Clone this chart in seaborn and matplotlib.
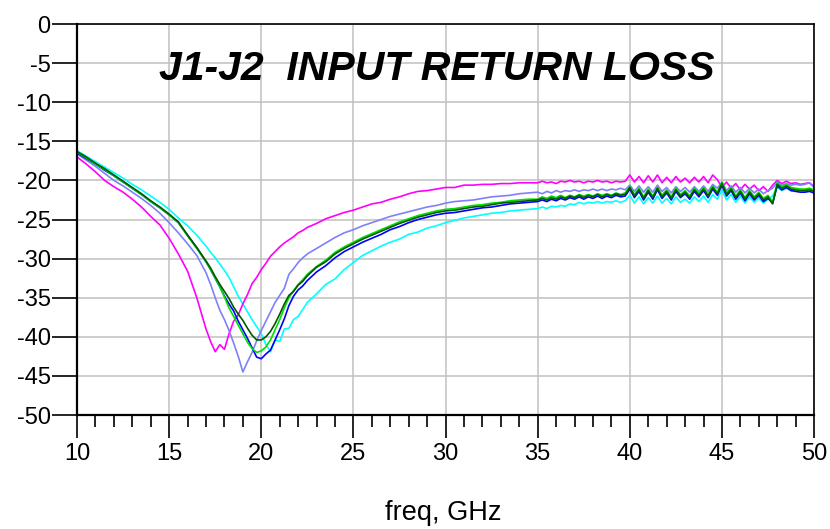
# -*- coding: utf-8 -*-
# J1-J2 input return loss, 10-50 GHz, six traces
import numpy as np
import pandas as pd
import matplotlib
matplotlib.use("Agg")
import matplotlib.pyplot as plt
import matplotlib.ticker as ticker
import seaborn as sns

# frequency grid [GHz]: finer steps around the dips and in the noisy top band
freq = np.concatenate([np.arange(10, 17, 0.5), np.arange(17, 22.5, 0.25),
                       np.arange(22.5, 35, 0.5), np.arange(35, 50.01, 0.25)])

# S11 [dB]
s11_cyan = [
    -16.2, -16.9, -17.6, -18.3, -19.0, -19.7, -20.5, -21.2, -22.0, -22.8, -23.7, -24.8, -25.8, -27.0,
    -28.4, -29.2, -29.9, -30.7, -31.5, -32.4, -33.6, -34.8, -35.8, -36.8, -37.8, -38.7, -39.6, -41.0,
    -41.9, -40.4, -40.6, -39.0, -38.9, -37.8, -37.4, -36.5,
    -35.6, -34.5, -33.3, -32.6, -31.4, -30.5, -29.6, -29.0, -28.4, -27.9, -27.5, -26.9, -26.6, -26.1,
    -25.8, -25.4, -25.1, -24.8, -24.6, -24.4, -24.2, -24.1, -23.9, -23.8, -23.7,
    -23.6, -23.4, -23.6, -23.3, -23.4, -23.2, -23.3, -23.0, -23.1, -22.8, -23.0, -22.8, -22.9, -22.7,
    -22.9, -22.7, -22.8, -22.6, -22.8, -22.6,
    -21.9, -22.9, -22.1, -23.0, -22.2, -22.9, -22.0, -22.9, -22.3, -23.0, -22.1, -22.8, -22.4, -22.9,
    -22.1, -22.7, -22.0, -22.8, -21.8, -22.4,
    -21.2, -22.5, -21.8, -22.8, -22.0, -22.9, -22.1, -22.8, -22.2, -22.9, -22.4, -22.0, -20.8, -21.3,
    -21.0, -21.3, -21.2, -21.2, -21.3, -21.0, -21.4]

s11_magenta = [
    -17.0, -17.9, -18.9, -20.0, -20.8, -21.5, -22.4, -23.4, -24.6, -25.7, -27.4, -29.4, -31.6, -35.0,
    -39.0, -40.6, -41.9, -41.0, -41.6, -39.6, -38.0, -37.2, -35.8, -34.6, -33.2, -32.4, -31.4, -30.6,
    -29.7, -29.1, -28.5, -28.0, -27.6, -27.2, -26.7, -26.4,
    -26.0, -25.5, -24.9, -24.5, -24.1, -23.8, -23.4, -23.0, -22.8, -22.4, -22.1, -21.7, -21.4, -21.3,
    -21.1, -20.9, -20.9, -20.6, -20.6, -20.5, -20.5, -20.4, -20.4, -20.3, -20.3,
    -20.3, -20.1, -20.3, -20.2, -20.4, -20.1, -20.2, -20.0, -20.2, -20.1, -20.3, -20.1, -20.2, -20.0,
    -20.2, -20.1, -20.3, -20.1, -20.2, -20.1,
    -19.3, -20.2, -19.5, -20.3, -19.4, -20.2, -19.3, -20.3, -19.6, -20.3, -19.5, -20.2, -19.7, -20.3,
    -19.6, -20.2, -19.5, -20.3, -19.3, -19.9,
    -20.9, -20.2, -21.0, -20.4, -21.2, -20.5, -21.1, -20.6, -21.3, -20.8, -21.4, -20.6, -20.0, -20.4,
    -20.1, -20.4, -20.3, -20.5, -20.4, -20.3, -20.8]

s11_slate = [
    -16.6, -17.4, -18.2, -19.1, -20.0, -20.7, -21.5, -22.3, -23.2, -24.2, -25.4, -26.7, -28.1, -29.6,
    -31.8, -33.3, -35.0, -36.6, -37.8, -39.2, -40.8, -42.5, -44.5, -43.2, -42.0, -40.5, -39.2, -38.0,
    -36.8, -35.6, -34.7, -33.8, -32.0, -31.3, -30.5, -29.9,
    -29.4, -28.7, -28.0, -27.3, -26.7, -26.3, -25.8, -25.4, -25.0, -24.6, -24.3, -24.0, -23.7, -23.4,
    -23.2, -22.9, -22.7, -22.6, -22.5, -22.3, -22.1, -22.0, -21.9, -21.7, -21.6,
    -21.5, -21.7, -21.4, -21.6, -21.3, -21.5, -21.3, -21.4, -21.2, -21.4, -21.2, -21.3, -21.1, -21.3,
    -21.1, -21.3, -21.1, -21.2, -21.0, -21.2,
    -20.6, -21.4, -20.7, -21.5, -20.8, -21.5, -20.6, -21.4, -20.9, -21.6, -20.8, -21.4, -20.9, -21.5,
    -20.8, -21.4, -20.7, -21.4, -20.5, -21.0,
    -20.2, -21.3, -20.7, -21.5, -20.9, -21.6, -21.0, -21.6, -21.1, -21.7, -21.3, -21.0, -20.2, -20.6,
    -20.4, -20.6, -20.5, -20.6, -20.5, -20.3, -20.9]

s11_blue = [
    -16.5, -17.2, -17.9, -18.7, -19.4, -20.2, -21.0, -21.8, -22.7, -23.5, -24.4, -25.4, -27.0, -28.6,
    -30.4, -31.4, -32.5, -33.6, -34.8, -35.8, -36.7, -38.0, -39.1, -40.2, -41.4, -42.6, -42.8, -42.2,
    -41.7, -40.4, -39.1, -37.7, -36.0, -34.8, -34.0, -33.5,
    -32.8, -31.7, -30.9, -29.9, -29.1, -28.5, -27.9, -27.4, -26.9, -26.3, -25.9, -25.4, -25.0, -24.7,
    -24.4, -24.2, -24.1, -23.9, -23.7, -23.5, -23.4, -23.2, -23.0, -22.9, -22.8,
    -22.7, -22.5, -22.7, -22.4, -22.6, -22.3, -22.5, -22.2, -22.4, -22.1, -22.4, -22.1, -22.3, -22.0,
    -22.3, -22.0, -22.2, -21.9, -22.1, -22.0,
    -21.1, -22.2, -21.4, -22.5, -21.5, -22.4, -21.2, -22.3, -21.6, -22.5, -21.4, -22.2, -21.7, -22.4,
    -21.4, -22.1, -21.3, -22.2, -21.1, -21.9,
    -20.6, -22.0, -21.3, -22.4, -21.6, -22.6, -21.7, -22.5, -21.9, -22.7, -22.3, -22.9, -20.7, -21.2,
    -20.9, -21.3, -21.4, -21.5, -21.5, -21.4, -21.6]

s11_green = [
    -16.4, -17.1, -17.9, -18.6, -19.4, -20.2, -21.0, -21.8, -22.7, -23.5, -24.4, -25.4, -27.1, -28.7,
    -30.4, -31.4, -32.5, -33.6, -34.9, -36.3, -37.4, -38.5, -39.6, -40.7, -41.5, -42.0, -41.8, -41.3,
    -40.4, -39.1, -37.8, -36.3, -35.0, -34.1, -33.3, -32.7,
    -32.0, -31.0, -30.2, -29.2, -28.5, -27.9, -27.3, -26.8, -26.3, -25.8, -25.3, -24.9, -24.5, -24.2,
    -23.9, -23.7, -23.6, -23.4, -23.2, -23.1, -22.9, -22.8, -22.6, -22.5, -22.4,
    -22.4, -22.1, -22.3, -22.0, -22.2, -21.9, -22.2, -21.9, -22.1, -21.8, -22.0, -21.8, -22.0, -21.7,
    -21.9, -21.7, -21.9, -21.6, -21.8, -21.6,
    -20.8, -21.8, -21.0, -22.1, -21.1, -22.0, -20.9, -21.9, -21.2, -22.1, -21.0, -21.8, -21.3, -22.0,
    -21.0, -21.7, -20.9, -21.8, -20.7, -21.5,
    -20.2, -21.6, -20.9, -22.0, -21.2, -22.2, -21.3, -22.1, -21.5, -22.3, -21.9, -22.8, -20.3, -20.8,
    -20.5, -20.9, -21.0, -21.1, -21.1, -21.0, -21.2]

s11_dkgreen = [
    -16.3, -17.0, -17.8, -18.5, -19.3, -20.1, -20.9, -21.7, -22.6, -23.4, -24.3, -25.3, -27.0, -28.6,
    -30.3, -31.2, -32.3, -33.3, -34.2, -35.1, -36.2, -37.1, -37.9, -38.9, -39.8, -40.4, -40.4, -40.0,
    -39.3, -38.3, -37.1, -35.8, -34.7, -34.2, -33.4, -32.9,
    -32.2, -31.1, -30.4, -29.4, -28.7, -28.1, -27.5, -27.0, -26.5, -26.0, -25.5, -25.1, -24.7, -24.4,
    -24.1, -23.9, -23.8, -23.6, -23.4, -23.3, -23.1, -22.9, -22.8, -22.7, -22.6,
    -22.5, -22.3, -22.5, -22.2, -22.4, -22.1, -22.3, -22.0, -22.2, -21.9, -22.2, -21.9, -22.1, -21.8,
    -22.1, -21.8, -22.0, -21.7, -21.9, -21.8,
    -20.9, -22.0, -21.2, -22.3, -21.3, -22.2, -21.0, -22.1, -21.4, -22.3, -21.2, -22.0, -21.5, -22.2,
    -21.2, -21.9, -21.1, -22.0, -20.9, -21.7,
    -20.4, -21.8, -21.1, -22.2, -21.4, -22.4, -21.5, -22.3, -21.7, -22.5, -22.1, -23.0, -20.5, -21.0,
    -20.7, -21.1, -21.2, -21.3, -21.3, -21.2, -21.4]

traces = ['cyan', 'magenta', 'slate', 'blue', 'green', 'dkgreen']
values = [s11_cyan, s11_magenta, s11_slate, s11_blue, s11_green, s11_dkgreen]
palette = ['#00FFFF', '#FF00FF', '#8080F8', '#0000FF', '#00E000', '#005A00']

df = pd.concat([pd.DataFrame({'freq': freq, 's11': v, 'trace': t})
                for t, v in zip(traces, values)])

sns.set_theme(style="white")
plt.rcParams['font.family'] = ['Liberation Sans', 'DejaVu Sans']
plt.rcParams['axes.unicode_minus'] = False
plt.rcParams['text.color'] = 'black'
plt.rcParams['xtick.color'] = 'black'
plt.rcParams['ytick.color'] = 'black'
plt.rcParams['axes.labelcolor'] = 'black'

fig = plt.figure(figsize=(8.3, 5.29), dpi=100)
ax = fig.add_axes([0.0928, 0.2155, 0.888, 0.739])

sns.lineplot(data=df, x='freq', y='s11', hue='trace', palette=palette,
             hue_order=traces, estimator=None, sort=False, legend=False,
             linewidth=1.2, ax=ax)

ax.set_xlim(10, 50)
ax.set_ylim(-50, 0)
ax.xaxis.set_major_locator(ticker.MultipleLocator(5))
ax.xaxis.set_minor_locator(ticker.MultipleLocator(1))
ax.yaxis.set_major_locator(ticker.MultipleLocator(5))
ax.grid(True, which='major', color='#c0c0c0', linewidth=1.1)
ax.set_axisbelow(True)

for side in ['top', 'right']:
    ax.spines[side].set_color('black')
    ax.spines[side].set_linewidth(1.2)
for side in ['left', 'bottom']:
    ax.spines[side].set_color('black')
    ax.spines[side].set_linewidth(1.6)

ax.tick_params(axis='y', which='major', direction='out', length=18, width=1.2,
               labelsize=17, pad=1, left=True)
ax.tick_params(axis='x', which='major', direction='out', length=16.5, width=1.2,
               labelsize=17, pad=4, bottom=True)
ax.tick_params(axis='x', which='minor', direction='out', length=8.5, width=1.2,
               bottom=True)

ax.set_xlabel('freq, GHz', fontsize=19.5)
ax.xaxis.set_label_coords(0.497, -0.218)
ax.set_ylabel('')

ax.text(0.488, 0.885, 'J1-J2  INPUT RETURN LOSS', transform=ax.transAxes,
        ha='center', va='center', fontsize=29.5, fontweight='bold',
        fontstyle='italic')

fig.savefig('out.png', dpi=100)
